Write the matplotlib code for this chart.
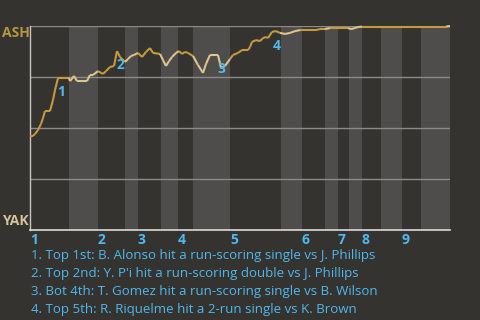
import numpy as np
import matplotlib
matplotlib.use("Agg")
import matplotlib.pyplot as plt

# game progress (0..420) and ASH win probability (%)
prog = [0, 3, 5, 8, 11, 13, 15, 20, 23, 25, 28, 38, 39, 40, 44, 47, 57, 60, 63, 68,
        73, 76, 80, 84, 87, 90, 95, 98, 101, 104, 108, 112, 116, 120, 123, 130, 133,
        136, 139, 142, 146, 149, 152, 155, 158, 163, 168, 173, 176, 180, 188, 191,
        195, 200, 203, 208, 212, 218, 220, 222, 226, 230, 233, 236, 238, 242, 246,
        250, 255, 260, 265, 270, 286, 290, 295, 300, 318, 321, 325, 328, 332, 416, 420]
win_pct = [46.1, 46.1, 47.1, 49.0, 52.0, 54.9, 58.3, 58.3, 63.7, 68.6, 74.5, 74.5, 74.5,
           73.0, 75.5, 73.0, 73.0, 76.0, 76.0, 77.9, 76.5, 77.9, 79.9, 80.4, 87.7, 84.8,
           82.4, 83.8, 85.3, 85.8, 86.8, 84.8, 87.3, 89.2, 86.8, 86.3, 83.3, 80.4, 82.8,
           84.8, 86.8, 87.7, 86.3, 87.3, 86.8, 85.3, 80.9, 77.0, 81.4, 85.8, 85.8, 79.4,
           80.4, 83.8, 85.8, 86.8, 88.2, 88.2, 89.7, 92.2, 93.1, 92.6, 94.1, 94.6, 94.1,
           97.1, 97.5, 96.6, 96.1, 96.6, 97.5, 98.0, 98.0, 98.5, 98.5, 99.0, 99.0, 98.5,
           99.0, 99.5, 99.7, 99.7, 100.0]

# inning starts and bottom-half spans
inning_start = [0, 68, 108, 148, 200, 272, 308, 332, 372]
inning_labels = ["1", "2", "3", "4", "5", "6", "7", "8", "9"]
bottom_start = [39, 95, 131, 163, 251, 295, 319, 351, 391]
bottom_end = [68, 108, 148, 200, 272, 308, 332, 372, 420]

# key plays
event_prog = [28, 87, 188, 244]
event_pct = [74.5, 87.7, 85.8, 97.3]
event_text = [
    "1. Top 1st: B. Alonso hit a run-scoring single vs J. Phillips",
    "2. Top 2nd: Y. P'i hit a run-scoring double vs J. Phillips",
    "3. Bot 4th: T. Gomez hit a run-scoring single vs B. Wilson",
    "4. Top 5th: R. Riquelme hit a 2-run single vs K. Brown",
]

bg = "#353330"
band = "#4f4d4b"
gold = "#c49a3e"
tan = "#dcc48e"
blue = "#4fb8ec"

plt.rcParams["font.family"] = ["Open Sans", "DejaVu Sans"]

fig = plt.figure(figsize=(4.8, 3.2), dpi=100, facecolor=bg)
ax = fig.add_axes([30 / 480, 90 / 320, 420 / 480, 204 / 320])
ax.set_facecolor(bg)

for s, e in zip(bottom_start, bottom_end):
    ax.axvspan(s, e, color=band, lw=0, zorder=0)

for g in [25, 50, 75, 100]:
    ax.axhline(g, color="#8c8a87", lw=1, zorder=1)

x = np.array(prog, dtype=float)
y = np.array(win_pct)
for i in range(len(x) - 1):
    mid = (x[i] + x[i + 1]) / 2
    in_bottom = any(s <= mid < e for s, e in zip(bottom_start, bottom_end))
    ax.plot(x[i:i + 2], y[i:i + 2], color=tan if in_bottom else gold, lw=1.5,
            solid_capstyle="butt", zorder=3, clip_on=False)

for n, (ex, ey) in enumerate(zip(event_prog, event_pct)):
    ax.annotate(str(n + 1), (ex, ey), xytext=(3, -14), textcoords="offset pixels",
                ha="center", va="center", color=blue, fontsize=10, fontweight="bold",
                zorder=4)

ax.set_xlim(0, 420)
ax.set_ylim(0, 100)
ax.set_yticks([])
ax.set_xticks(inning_start)
ax.set_xticklabels(inning_labels, ha="left", color=blue, fontsize=10, fontweight="bold")
ax.tick_params(axis="x", length=0, pad=2)
for side in ["top", "right"]:
    ax.spines[side].set_visible(False)
ax.spines["left"].set_color("#c8c6c2")
ax.spines["bottom"].set_color("#dddbd8")
ax.spines["left"].set_linewidth(1)
ax.spines["bottom"].set_linewidth(1.2)

fig.text(2 / 480, 1 - 33 / 320, "ASH", color="#b8953f", fontsize=10, fontweight="bold",
         va="center", ha="left")
fig.text(2 / 480, 1 - 221 / 320, "YAK", color="#d4c49c", fontsize=10, fontweight="bold",
         va="center", ha="left")

for k, t in enumerate(event_text):
    fig.text(31 / 480, 1 - (259 + 18 * k) / 320, t, color=blue, fontsize=9.5,
             va="baseline", ha="left")

fig.savefig("out.png", dpi=100, facecolor=bg)
